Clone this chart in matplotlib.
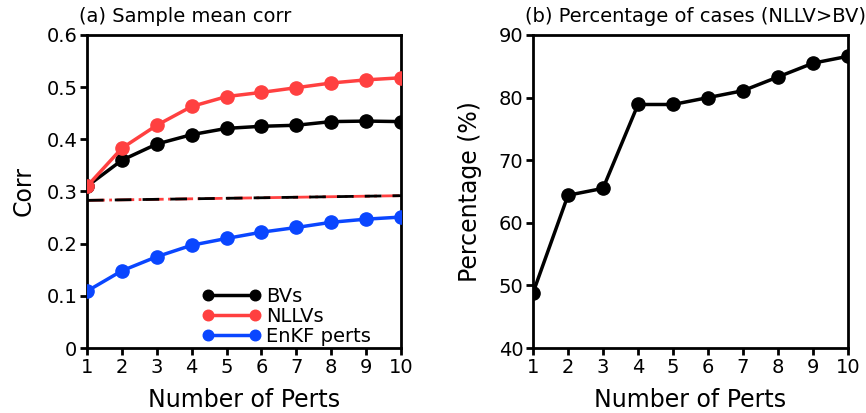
import numpy as np
import matplotlib
matplotlib.use("Agg")
import matplotlib.pyplot as plt

# datos
n_perts = [1, 2, 3, 4, 5, 6, 7, 8, 9, 10]
corr_bv = [0.310, 0.360, 0.391, 0.409, 0.421, 0.425, 0.427, 0.434, 0.435, 0.434]
corr_nllv = [0.310, 0.383, 0.427, 0.463, 0.482, 0.490, 0.499, 0.508, 0.514, 0.518]
corr_enkf = [0.109, 0.148, 0.175, 0.197, 0.210, 0.222, 0.231, 0.241, 0.247, 0.251]
base_bv = [0.283, 0.284, 0.285, 0.286, 0.287, 0.288, 0.289, 0.290, 0.291, 0.292]
base_nllv = [0.283, 0.284, 0.285, 0.286, 0.287, 0.288, 0.289, 0.290, 0.291, 0.292]
pct_cases = [48.8, 64.4, 65.5, 78.9, 78.9, 80.0, 81.1, 83.3, 85.5, 86.6]

plt.rcParams['font.family'] = 'DejaVu Sans'

fig = plt.figure(figsize=(8.66, 4.13), dpi=100)
ax1 = fig.add_axes([87/866, 65/413, 314/866, 313/413])
ax2 = fig.add_axes([533/866, 65/413, 315/866, 313/413])

lw = 2.5
ms = 9.5

ax1.plot(n_perts, base_nllv, color='#ff4040', ls='-.', lw=2, zorder=2)
ax1.plot(n_perts, base_bv, color='black', ls=(0, (6, 4)), lw=2, zorder=2)
ax1.plot(n_perts, corr_bv, color='black', marker='o', ms=ms, lw=lw, label='BVs', zorder=3)
ax1.plot(n_perts, corr_nllv, color='#ff4040', marker='o', ms=ms, lw=lw, label='NLLVs', zorder=3)
ax1.plot(n_perts, corr_enkf, color='#0a46ff', marker='o', ms=ms, lw=lw, label='EnKF perts', zorder=3)

ax1.set_xlim(1, 10)
ax1.set_ylim(0, 0.6)
ax1.set_xticks(n_perts)
ax1.set_yticks([0, 0.1, 0.2, 0.3, 0.4, 0.5, 0.6])
ax1.set_yticklabels(['0', '0.1', '0.2', '0.3', '0.4', '0.5', '0.6'])
ax1.set_xlabel('Number of Perts', fontsize=17, labelpad=8)
ax1.set_ylabel('Corr', fontsize=17, labelpad=8)
ax1.set_title('(a) Sample mean corr', fontsize=14, loc='left', x=-0.025, pad=9)
ax1.legend(loc='lower left', bbox_to_anchor=(0.33, -0.03), frameon=False, fontsize=14,
           numpoints=2, handlelength=3.0, handletextpad=0.3, labelspacing=0.05,
           borderaxespad=0.2, markerscale=0.8)

ax2.plot(n_perts, pct_cases, color='black', marker='o', ms=ms, lw=lw, zorder=3)
ax2.set_xlim(1, 10)
ax2.set_ylim(40, 90)
ax2.set_xticks(n_perts)
ax2.set_yticks([40, 50, 60, 70, 80, 90])
ax2.set_xlabel('Number of Perts', fontsize=17, labelpad=8)
ax2.set_ylabel('Percentage (%)', fontsize=17, labelpad=12)
ax2.set_title('(b) Percentage of cases (NLLV>BV)', fontsize=14, loc='left', x=-0.025, pad=9)

for ax in (ax1, ax2):
    for s in ax.spines.values():
        s.set_linewidth(2)
    ax.tick_params(axis='both', direction='out', length=5, width=2, labelsize=14, pad=2,
                   top=False, right=False)

fig.savefig('out.png', dpi=100)
